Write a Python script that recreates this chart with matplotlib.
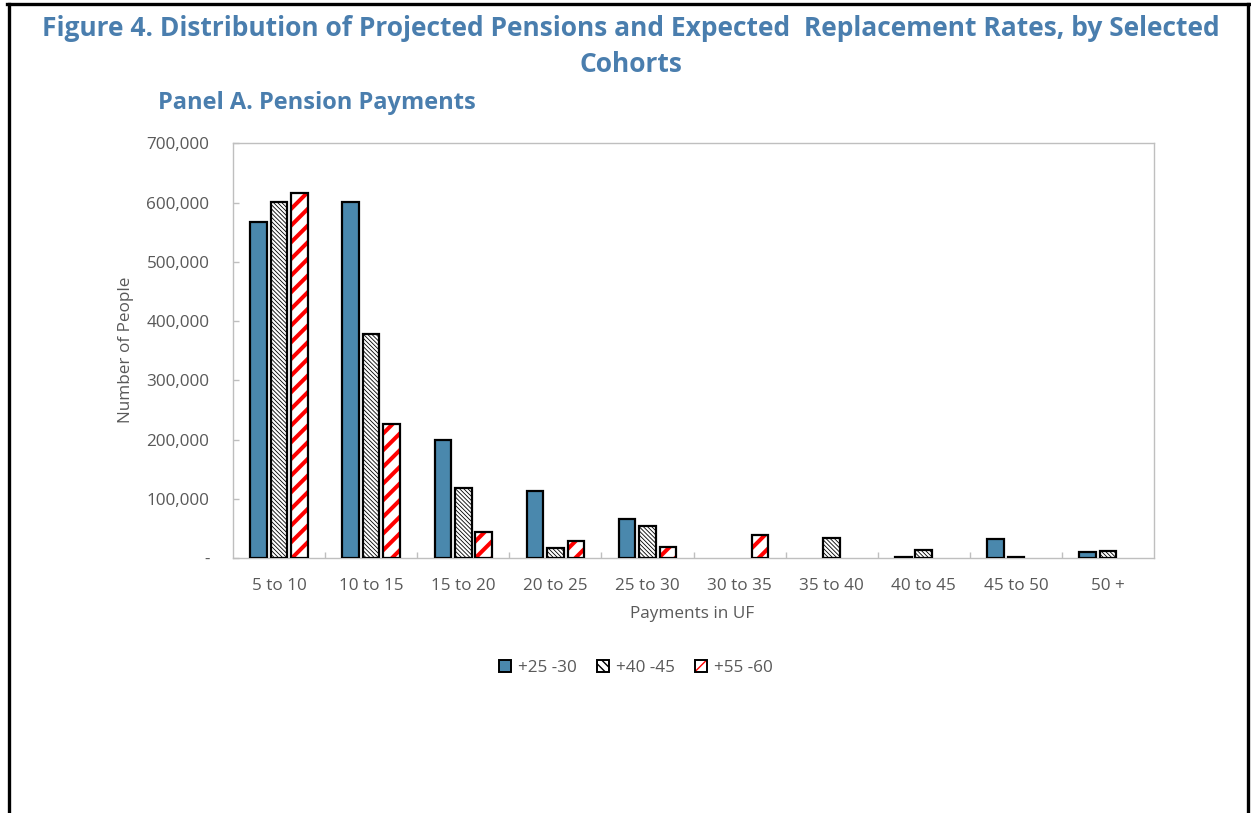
import matplotlib
matplotlib.use("Agg")
import matplotlib.pyplot as plt
import numpy as np
from matplotlib.patches import Patch
from matplotlib.lines import Line2D

categories = ["5 to 10", "10 to 15", "15 to 20", "20 to 25", "25 to 30",
              "30 to 35", "35 to 40", "40 to 45", "45 to 50", "50 +"]
series_names = ["+25 -30", "+40 -45", "+55 -60"]
c25_30 = [567000, 601000, 199000, 113000, 66000, 0, 0, 3000, 32000, 10500]
c40_45 = [601000, 379000, 118000, 17000, 54000, 0, 35000, 13500, 2000, 13000]
c55_60 = [616000, 227000, 45000, 30000, 19000, 40000, 0, 0, 0, 0]
yticks = [0, 100000, 200000, 300000, 400000, 500000, 600000, 700000]

W, H = 1251, 813
fig = plt.figure(figsize=(W / 100, H / 100), dpi=100)
plt.rcParams['font.family'] = ['Open Sans', 'DejaVu Sans']

TITLE_C = '#4A7EAE'
BLUE = '#4A88AD'
GRAY_T = '#595959'
FS = 12.3

ax = fig.add_axes([233 / W, 1 - 558.3 / H, (1154 - 233) / W, (558.3 - 143.3) / H])
x = np.arange(len(categories))
bw = 0.18
off = 0.222


def nz(vals):
    v = np.asarray(vals, dtype=float)
    m = v > 0
    return m, v


# series 1: solid blue
m, v = nz(c25_30)
ax.bar(x[m] - off, v[m], bw, color=BLUE, edgecolor='black', linewidth=1.6, zorder=3)

# series 2: white with fine black hatch
m, v = nz(c40_45)
with plt.rc_context({'hatch.linewidth': 0.6}):
    ax.bar(x[m], v[m], bw, color='white', edgecolor='black', hatch='\\' * 8, linewidth=0, zorder=3)
ax.bar(x[m], v[m], bw, fill=False, edgecolor='black', linewidth=1.6, zorder=4)

# series 3: white with thick red stripes
m, v = nz(c55_60)
with plt.rc_context({'hatch.linewidth': 2.9}):
    ax.bar(x[m] + off, v[m], bw, color='white', edgecolor='red', hatch='//', linewidth=0, zorder=3)
ax.bar(x[m] + off, v[m], bw, fill=False, edgecolor='black', linewidth=1.6, zorder=4)

ax.set_xlim(-0.5, len(categories) - 0.5)
ax.set_ylim(0, 700000)
ax.set_yticks(yticks)
ax.set_yticklabels(['-' if t == 0 else f"{t:,}" for t in yticks])
ax.set_xticks(x)
ax.set_xticklabels(categories)
ax.set_xticks(np.arange(len(categories) - 1) + 0.5, minor=True)
ax.tick_params(axis='x', which='major', length=0, pad=14, labelsize=FS, labelcolor=GRAY_T)
ax.tick_params(axis='x', which='minor', direction='in', length=4, color='#BFBFBF', width=1)
ax.tick_params(axis='y', direction='in', length=4, color='#BFBFBF', width=1, pad=17,
               labelsize=FS, labelcolor=GRAY_T)
for s in ax.spines.values():
    s.set_color('#BFBFBF')
    s.set_linewidth(1)

fig.text(126 / W, 1 - 350 / H, "Number of People", rotation=90, ha='center', va='center',
         fontsize=FS, color=GRAY_T)
fig.text(692 / W, 1 - 614 / H, "Payments in UF", ha='center', va='center',
         fontsize=FS, color=GRAY_T)

fig.text(631 / W, 1 - 29 / H, "Figure 4. Distribution of Projected Pensions and Expected  Replacement Rates, by Selected",
         ha='center', va='center', fontsize=19.0, fontweight='bold', color=TITLE_C)
fig.text(631 / W, 1 - 65 / H, "Cohorts", ha='center', va='center', fontsize=19.0,
         fontweight='bold', color=TITLE_C)
fig.text(158 / W, 1 - 103 / H, "Panel A. Pension Payments", ha='left', va='center',
         fontsize=17, fontweight='bold', color=TITLE_C)

# legend
h1 = Patch(facecolor=BLUE, edgecolor='black', linewidth=1.4)
with plt.rc_context({'hatch.linewidth': 0.6}):
    h2 = Patch(facecolor='white', edgecolor='black', hatch='\\' * 4, linewidth=1.4)
with plt.rc_context({'hatch.linewidth': 2.6}):
    h3 = Patch(facecolor='white', edgecolor='red', hatch='/', linewidth=0)
h3b = Patch(facecolor='none', edgecolor='black', linewidth=1.4)
leg = fig.legend([h1, h2, (h3, h3b)], series_names, loc='center',
                 bbox_to_anchor=(636 / W, 1 - 668 / H), ncol=3, frameon=False,
                 handlelength=0.7, handleheight=0.7, handletextpad=0.4,
                 columnspacing=1.2, fontsize=FS, labelcolor=GRAY_T)

# outer frame lines
fig.add_artist(Line2D([8.5 / W, 8.5 / W], [0, 1 - 4 / H], transform=fig.transFigure,
                      color='black', linewidth=2.4))
fig.add_artist(Line2D([1247.5 / W, 1247.5 / W], [0, 1 - 4 / H], transform=fig.transFigure,
                      color='black', linewidth=2.4))
fig.add_artist(Line2D([7 / W, 1249 / W], [1 - 4 / H, 1 - 4 / H], transform=fig.transFigure,
                      color='black', linewidth=2.4))

fig.savefig("out.png", dpi=100)
